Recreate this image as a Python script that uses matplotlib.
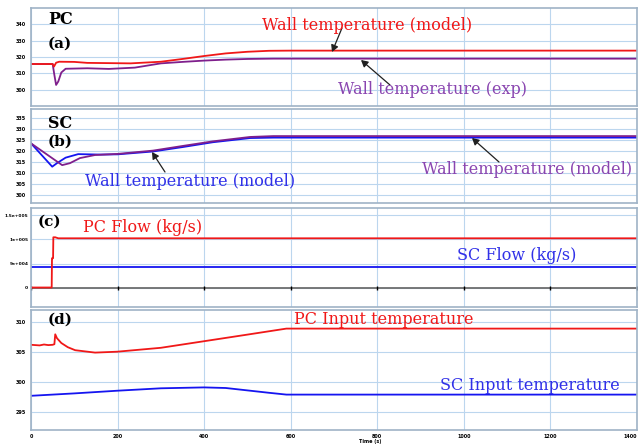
import matplotlib
matplotlib.use("Agg")
import matplotlib.pyplot as plt
import numpy as np

W, H = 639, 445

# ---------------- data ----------------
time_ticks = [0, 200, 400, 600, 800, 1000, 1200, 1400]

# (a) PC wall temperature
pc_model_t = [0, 50, 53, 58, 65, 100, 130, 230, 300, 350, 400, 450, 500, 550, 600, 1400]
pc_model_v = [315.7, 315.7, 314.1, 316.5, 317.1, 317.0, 316.4, 316.1, 317.1, 318.8, 320.6, 322.2, 323.2, 323.8, 323.9, 323.9]
pc_exp_t = [0, 50, 54, 58, 63, 70, 80, 130, 180, 240, 300, 350, 400, 450, 500, 560, 1400]
pc_exp_v = [315.7, 315.7, 309.0, 302.9, 305.0, 310.5, 312.8, 313.1, 312.7, 313.5, 316.1, 317.0, 317.8, 318.4, 318.8, 319.0, 319.0]
a_ticks = [300, 310, 320, 330, 340]

# (b) SC wall temperature
sc_model_t = [0, 49, 60, 80, 109, 160, 200, 282, 350, 420, 506, 560, 1400]
sc_model_v = [323.5, 312.9, 314.5, 317.0, 318.6, 318.4, 318.5, 319.8, 321.8, 324.0, 325.9, 326.1, 326.1]
sc_model2_t = [0, 72, 90, 113, 148, 200, 282, 350, 420, 506, 560, 1400]
sc_model2_v = [323.5, 313.6, 314.5, 316.8, 318.2, 318.7, 320.2, 322.3, 324.4, 326.4, 326.8, 326.8]
b_ticks = [300, 305, 310, 315, 320, 325, 330, 335]

# (c) flows
pc_flow_t = [0, 47.8, 48.5, 51, 51.6, 56, 63, 1400]
pc_flow_v = [0, 0, 6.1e4, 6.1e4, 1.046e5, 1.046e5, 1.025e5, 1.025e5]
sc_flow_t = [0, 1400]
sc_flow_v = [4.2e4, 4.2e4]
c_ticks = [0, 5e4, 1e5, 1.5e5]
c_labels = ["0", "5e+004", "1e+005", "1.5e+005"]

# (d) input temperatures
pc_in_t = [0, 20, 30, 40, 50, 54, 56, 60, 70, 85, 102, 148, 199, 300, 400, 500, 590, 1400]
pc_in_v = [306.2, 306.1, 306.25, 306.15, 306.2, 306.3, 307.95, 307.3, 306.5, 305.8, 305.3, 304.9, 305.05, 305.7, 306.8, 307.9, 308.9, 308.9]
sc_in_t = [0, 100, 200, 300, 400, 450, 500, 550, 590, 1400]
sc_in_v = [297.7, 298.1, 298.55, 298.95, 299.1, 299.0, 298.6, 298.2, 297.9, 297.9]
d_ticks = [295, 300, 305, 310]

# ---------------- style ----------------
RED = "#F01818"
PURPLE = "#7F1F8C"
BLUE = "#1515F0"
PURPLE_TXT = "#8A45B0"
BLUE_TXT = "#3030E8"
GRID = "#BCD6EE"
SPINE = "#9FB3C6"
SERIF = "DejaVu Serif"

fig = plt.figure(figsize=(W / 100, H / 100), dpi=100)
fig.patch.set_facecolor("white")


def rect(top, bottom, left=31, right=637):
    return [left / W, 1 - bottom / H, (right - left) / W, (bottom - top) / H]


def fxy(x, y):
    return (x / W, 1 - y / H)


def style(ax, ylim, yticks, ylabels=None, size=3.5, pad=4):
    ax.set_xlim(0, 1400)
    ax.set_ylim(*ylim)
    ax.set_xticks(time_ticks)
    ax.set_yticks(yticks)
    if ylabels is not None:
        ax.set_yticklabels(ylabels)
    ax.grid(True, color=GRID, lw=0.8)
    ax.set_axisbelow(True)
    for s in ax.spines.values():
        s.set_color(SPINE)
        s.set_linewidth(1.2)
    ax.tick_params(axis="y", length=0, labelsize=size, pad=pad)
    ax.tick_params(axis="x", length=0, labelbottom=False)
    for lab in ax.get_yticklabels():
        lab.set_fontweight("bold")


ax1 = fig.add_axes(rect(8, 106))
ax2 = fig.add_axes(rect(109, 203))
ax3 = fig.add_axes(rect(208, 307))
ax4 = fig.add_axes(rect(310, 430))

style(ax1, (290, 350), a_ticks)
style(ax2, (296.4, 339.1), b_ticks)
style(ax3, (-4.06e4, 1.656e5), c_ticks, c_labels, size=3.2, pad=2)
style(ax4, (292, 312), d_ticks)

LW = 1.3
ax1.plot(pc_exp_t, pc_exp_v, color=PURPLE, lw=LW)
ax1.plot(pc_model_t, pc_model_v, color=RED, lw=LW)

ax2.plot(sc_model_t, sc_model_v, color=BLUE, lw=LW)
ax2.plot(sc_model2_t, sc_model2_v, color=PURPLE, lw=LW)

ax3.plot(time_ticks, np.zeros(len(time_ticks)), color="#6E6E6E", lw=1.3,
         marker="|", markersize=3, markeredgecolor="black", markeredgewidth=1)
ax3.plot(sc_flow_t, sc_flow_v, color=BLUE, lw=LW)
ax3.plot(pc_flow_t, pc_flow_v, color=RED, lw=LW)

ax4.plot(pc_in_t, pc_in_v, color=RED, lw=LW)
ax4.plot(sc_in_t, sc_in_v, color=BLUE, lw=LW)
ax4.tick_params(axis="x", labelbottom=True, labelsize=3.5, pad=3)
xl = ax4.get_xticklabels()
for lab in xl:
    lab.set_fontweight("bold")
xl[-1].set_horizontalalignment("right")
fig.text(*fxy(370, 442), "Time (s)", fontsize=3.5, fontweight="bold",
         ha="center", va="center")

# ---------------- annotations ----------------
TFS = 11.5


def label(x, y, s, color, size=TFS, weight="normal"):
    fig.text(*fxy(x, y), s, color=color, fontsize=size, family=SERIF,
             fontweight=weight, ha="left", va="center")


def arrow(tail, head):
    fig.add_artist(matplotlib.patches.FancyArrowPatch(
        fxy(*tail), fxy(*head), transform=fig.transFigure,
        arrowstyle="-|>,head_length=4,head_width=2.2", color="#202020",
        lw=0.9, shrinkA=0, shrinkB=0))


label(48, 20, "PC", "black", 11.5, "bold")
label(48, 44, "(a)", "black", 11, "bold")
label(48, 123, "SC", "black", 11.5, "bold")
label(48, 142, "(b)", "black", 11, "bold")
label(38, 222, "(c)", "black", 11, "bold")
label(48, 320, "(d)", "black", 11, "bold")

label(262, 26, "Wall temperature (model)", RED)
label(338, 90, "Wall temperature (exp)", PURPLE_TXT)
label(85, 181, "Wall temperature (model)", BLUE_TXT)
label(422, 170, "Wall temperature (model)", PURPLE_TXT)
label(83, 228, "PC Flow (kg/s)", RED)
label(457, 255, "SC Flow (kg/s)", BLUE_TXT)
label(294, 320, "PC Input temperature", RED)
label(440, 385, "SC Input temperature", BLUE_TXT)

arrow((342, 28), (332, 52))
arrow((390, 85), (361, 60))
arrow((165, 172), (152, 152))
arrow((499, 162), (472, 138))

fig.savefig("out.png", dpi=100)
